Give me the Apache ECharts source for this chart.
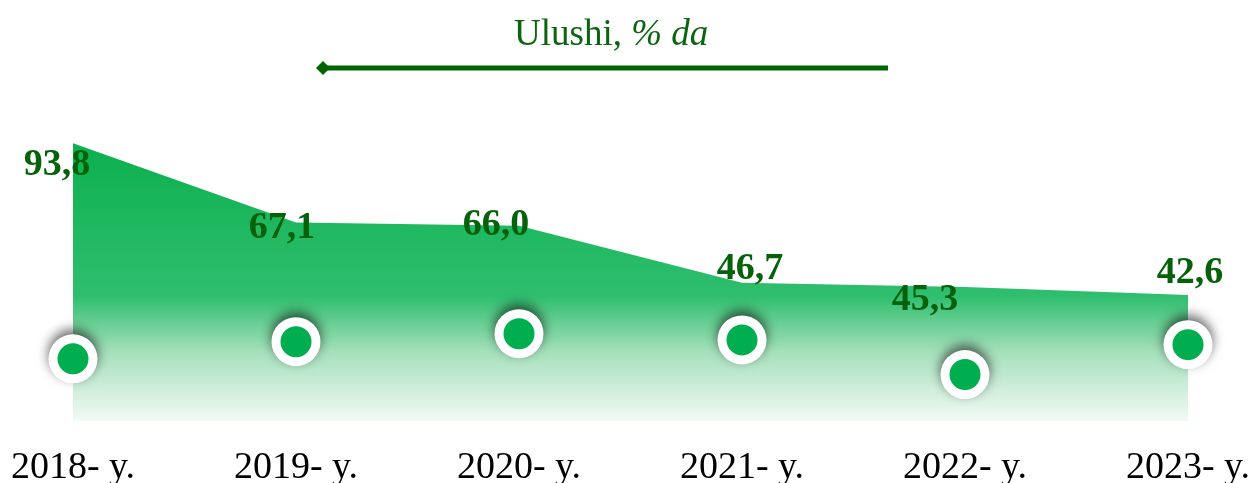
<!DOCTYPE html>
<html>
<head>
<meta charset="utf-8">
<script src="https://cdn.jsdelivr.net/npm/echarts@6/dist/echarts.min.js"></script>
<style>
  html, body { margin: 0; padding: 0; background: #fff; }
  #main { width: 1252px; height: 483px; }
</style>
</head>
<body>
<div id="main"></div>
<script>
// ma'lumotlar
var years = ['2018- y.', '2019- y.', '2020- y.', '2021- y.', '2022- y.', '2023- y.'];
var shares = [93.8, 67.1, 66.0, 46.7, 45.3, 42.6];
// dekorativ doirachalar balandligi (o'q birliklarida)
var dots = [21.0, 26.8, 29.5, 27.4, 15.7, 25.8];

// yorliqlarning siljishi (faqat joylashuv)
var labelShift = [[-16, 22], [-14, 6], [-23, 0], [8, -14], [-40, 13], [2, -22]];

var serif = 'Liberation Serif, Times New Roman, serif';
var myChart = echarts.init(document.getElementById('main'));

var areaData = shares.map(function (v, i) {
    return {
        value: v,
        label: { offset: labelShift[i] }
    };
});

option = {
    animation: false,
    title: {
        text: '{a|Ulushi, }{b|% da}',
        left: 509,
        top: 12,
        textStyle: {
            rich: {
                a: { fontFamily: serif, fontSize: 37, color: '#0b640f', fontWeight: 'normal' },
                b: { fontFamily: serif, fontSize: 37, color: '#0b640f', fontWeight: 'normal', fontStyle: 'italic' }
            }
        }
    },
    grid: { left: 73, right: 64, top: 125, bottom: 62, outerBoundsMode: 'none', containLabel: false },
    xAxis: {
        type: 'category',
        data: years,
        boundaryGap: false,
        axisLine: { show: false },
        axisTick: { show: false },
        axisLabel: {
            margin: 28,
            fontFamily: serif,
            fontSize: 38,
            color: '#000'
        }
    },
    yAxis: {
        type: 'value',
        min: 0,
        max: 100,
        show: false
    },
    graphic: [
        {
            type: 'line',
            shape: { x1: 326, y1: 68, x2: 888, y2: 68 },
            style: { stroke: '#006400', lineWidth: 5 }
        },
        {
            type: 'polygon',
            shape: { points: [[316, 68], [323, 61], [330, 68], [323, 75]] },
            style: { fill: '#006400' }
        }
    ],
    series: [
        {
            name: 'Ulushi',
            type: 'line',
            data: areaData,
            symbol: 'circle',
            symbolSize: 1,
            itemStyle: { color: 'rgba(0,0,0,0)' },
            lineStyle: { width: 0 },
            areaStyle: {
                opacity: 1,
                color: new echarts.graphic.LinearGradient(0, 0, 0, 1, [
                    { offset: 0, color: '#0cb04e' },
                    { offset: 0.55, color: '#2fbe6e' },
                    { offset: 0.75, color: '#a4e0bb' },
                    { offset: 1, color: '#f3faf5' }
                ])
            },
            label: {
                show: true,
                position: 'inside',
                fontFamily: serif,
                fontWeight: 'bold',
                fontSize: 38,
                color: '#05620a',
                formatter: function (p) {
                    return p.value.toFixed(1).replace('.', ',');
                }
            },
            z: 1
        },
        {
            name: 'ring',
            type: 'scatter',
            data: dots,
            symbol: 'circle',
            symbolSize: 49,
            itemStyle: {
                color: '#fff',
                opacity: 1,
                shadowBlur: 12,
                shadowColor: 'rgba(0,0,0,0.6)',
                shadowOffsetY: -5
            },
            silent: true,
            z: 3
        },
        {
            name: 'dot',
            type: 'scatter',
            data: dots,
            symbol: 'circle',
            symbolSize: 31,
            itemStyle: { color: '#00ae50', opacity: 1 },
            z: 4
        }
    ]
};
myChart.setOption(option);
</script>
</body>
</html>
